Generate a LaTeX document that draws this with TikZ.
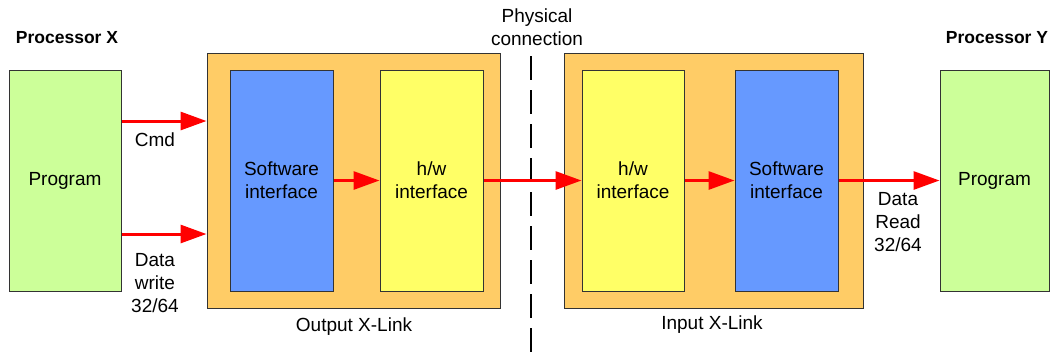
\documentclass[tikz,border=0pt]{standalone}
\usepackage{fontspec}
\setmainfont{Liberation Sans}
\usetikzlibrary{arrows.meta}
\definecolor{progfill}{HTML}{CCFF99}
\definecolor{linkfill}{HTML}{FFCC66}
\definecolor{swfill}{HTML}{6699FF}
\definecolor{hwfill}{HTML}{FFFF66}
\definecolor{edge}{HTML}{333333}
\definecolor{flow}{HTML}{FF0000}
\tikzset{
  box/.style={draw=edge, line width=1pt, inner sep=0pt, minimum height=221pt,
    align=center, font=\fontsize{19}{23}\selectfont},
  prog/.style={box, fill=progfill},
  link/.style={draw=edge, line width=1pt, inner sep=0pt, fill=linkfill,
    minimum height=255pt},
  swbox/.style={box, fill=swfill, minimum width=103pt},
  hwbox/.style={box, fill=hwfill, minimum width=103pt},
  flowarrow/.style={draw=flow, line width=3pt,
    -{Triangle[length=26pt, width=18pt]}},
  lbl/.style={align=center, inner sep=0pt, font=\fontsize{19}{23}\selectfont},
  title/.style={inner sep=0pt, font=\fontsize{17.5}{21}\selectfont\bfseries},
  divider/.style={draw=black, line width=1.5pt, dash pattern=on 24pt off 10pt}
}
\begin{document}
\begin{tikzpicture}[x=1pt, y=-1pt]
  \useasboundingbox (0,0) rectangle (1052,360);

  % containers for the two link ends
  \node[link, minimum width=293pt] (outlink) at (353.5,180.5) {};
  \node[link, minimum width=299pt] (inlink) at (713.5,180.5) {};

  % processor programs
  \node[prog, minimum width=112pt] (progX) at (65,180.5) {Program};
  \node[prog, minimum width=109pt] (progY) at (994.5,180.5) {Program};

  % interfaces inside the links
  \node[swbox] (swX) at (281.5,180.5) {Software\\interface};
  \node[hwbox] (hwX) at (431.5,180.5) {h/w\\interface};
  \node[hwbox, minimum width=102pt] (hwY) at (633,180.5) {h/w\\interface};
  \node[swbox] (swY) at (786.5,180.5) {Software\\interface};

  % titles and captions
  \node[title] (tX) at (67,38) {Processor X};
  \node[title] (tY) at (997,38) {Processor Y};
  \node[lbl] (phys) at (537,27.5) {Physical\\connection};
  \node[lbl] (outcap) at (354,327) {Output X-Link};
  \node[lbl] (incap) at (712,325) {Input X-Link};

  % physical boundary between the two processors
  \coordinate (divtop) at (531,56);
  \coordinate (divbot) at (531,362);
  \draw[divider] (divtop) -- (divbot);

  % data flow
  \coordinate (cmdy) at (0,121);
  \coordinate (wry) at (0,234);
  \draw[flowarrow] (progX.east |- cmdy) -- (outlink.west |- cmdy);
  \draw[flowarrow] (progX.east |- wry) -- (outlink.west |- wry);
  \draw[flowarrow] (swX.east) -- (hwX.west);
  \draw[flowarrow] (hwX.east) -- (hwY.west);
  \draw[flowarrow] (hwY.east) -- (swY.west);
  \draw[flowarrow] (swY.east) -- (progY.west);

  \node[lbl] (cmd) at (155,140) {Cmd};
  \node[lbl] (wr) at (155,283) {Data\\write\\32/64};
  \node[lbl] (rd) at (898,222) {Data\\Read\\32/64};
\end{tikzpicture}
\end{document}
